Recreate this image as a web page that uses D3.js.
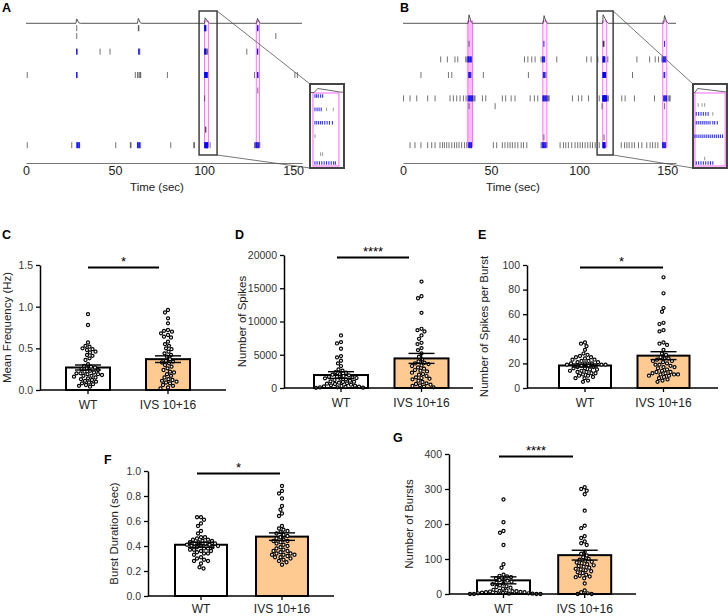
<!DOCTYPE html>
<html><head><meta charset="utf-8">
<script src="https://cdn.jsdelivr.net/npm/d3@7"></script>
<style>body{margin:0;background:#fff}svg{display:block;font-family:"Liberation Sans",Arial,sans-serif}</style>
</head><body><svg id="c" width="728" height="616"></svg>
<script>
// ---------- DATA ----------
const timeTicks = [0, 50, 100, 150];
const rowIds = [0,1,2,3,4,5,6,7,8,9,10,11,12,13,14,15];
const groups = ['WT', 'IVS 10+16'];

// Panel A raster (spike times in sec per electrode row)
const spikesA = [
  [28.5, 63.1, 63.4],
  [28.5, 140.3],
  [],
  [41.6, 47.2, 63.9, 101.36, 101.92, 124.0],
  [], [],
  [0.7, 61.4, 62.6, 63.4, 64.0, 64.4, 79.4, 128.3, 151.0, 152.4],
  [],
  [130.2],
  [100.37],
  [], [], [],
  [100.85, 101.02],
  [],
  [0.7, 25.7, 50.4, 58.6, 59.0, 64.4, 81.3, 94.2, 94.6, 103.4, 128.3, 131.3]
];
const burstSpikesA = [
  [100.37, 100.51, 100.65, 100.85, 101.02, 130.0, 130.3],
  [],
  [],
  [28.4, 28.7, 63.3, 63.5, 100.37, 100.55, 100.72, 100.9, 130.0, 130.2],
  [], [],
  [28.4, 28.7, 100.37, 100.52, 100.68, 100.85, 101.0, 101.2, 101.4, 101.6, 101.85, 130.0, 130.3],
  [], [], [], [], [], [], [], [],
  [28.5, 28.9, 29.3, 29.7, 30.1, 62.6, 63.0, 63.4, 63.8, 100.37, 100.55, 100.75, 100.95, 101.15, 101.35, 101.55, 101.75, 101.95, 102.1, 129.0, 129.4, 129.8, 130.2, 130.6]
];
const networkBurstsA = [[100.2, 102.4], [129.3, 131.1]];
const burstFillA = [0.04, 0.04];
const traceA = [[0,0],[28,0],[28.5,0.8],[29.6,0.1],[30.5,0],[62.6,0],[63.1,0.9],[64.2,0.1],[65,0],[100.3,0],[100.6,1],[101.5,0.6],[102.4,0.15],[103,0],[129.5,0],[130,0.9],[131.1,0.1],[132,0],[155,0]];
const zoomWindowA = [97.2, 107.3];
const insetWindowA = [99.95, 102.83];

// Panel B raster
const spikesB = [
  [], [],
  [37.5, 113.65, 113.94, 114.14],
  [],
  [21.4, 25.2, 29.5, 31.1, 35.6, 36.3, 69.0, 70.9, 73.1, 75.0, 78.4, 87.3, 104.3, 106.8, 110.6, 114.76, 116.3, 132.8, 140.0, 143.2, 145.1, 147.0],
  [],
  [10.2, 25.8, 27.7, 45.6, 71.2, 81.1, 130.3],
  [], [],
  [0.3, 4.0, 7.8, 14.0, 18.2, 26.7, 28.6, 30.5, 32.4, 34.3, 35.8, 39.8, 40.4, 40.9, 45.1, 47.0, 56.4, 58.3, 61.4, 63.6, 72.2, 74.6, 76.5, 82.0, 82.5, 83.0, 96.2, 99.6, 101.5, 105.3, 111.4, 116.0, 116.6, 124.2, 126.1, 131.4, 142.8, 150.5, 151.2, 151.7],
  [37.5, 52.3, 113.0, 148.5],
  [], [], [],
  [80.0, 114.14],
  [4.0, 6.8, 10.2, 14.0, 16.3, 18.2, 21.0, 22.4, 23.5, 24.8, 26.1, 27.7, 29.2, 30.5, 31.8, 33.3, 34.9, 36.2, 51.3, 53.2, 56.4, 57.9, 59.5, 60.8, 62.1, 63.6, 65.2, 67.1, 68.4, 70.3, 78.4, 81.7, 89.2, 91.1, 92.4, 93.9, 95.8, 97.7, 99.2, 100.6, 101.9, 103.4, 104.9, 106.3, 107.6, 109.1, 111.4, 123.9, 125.8, 127.1, 128.4, 130.0, 131.4, 133.7, 135.6, 138.4, 140.3, 141.7, 143.2, 144.7]
];
const burstSpikesB = [
  [], [],
  [80.0, 148.5],
  [],
  [36.8, 37.2, 37.6, 38.0, 38.4, 38.8, 79.2, 79.6, 80.0, 80.4, 113.5, 113.68, 113.86, 114.04, 114.22, 114.4, 147.6, 148.0, 148.4, 148.8, 149.2],
  [],
  [37.3, 37.7, 38.1, 38.5, 79.7, 80.1, 80.5, 113.5, 113.65, 113.8, 113.95, 114.1, 114.25, 114.4, 114.55, 114.76, 114.9, 115.1, 148.2, 148.6],
  [], [],
  [37.0, 37.4, 37.8, 38.2, 38.6, 39.0, 39.4, 79.4, 79.8, 80.2, 80.6, 81.0, 81.4, 113.4, 113.55, 113.7, 113.85, 114.0, 114.15, 114.3, 114.45, 114.6, 114.75, 114.9, 115.05, 115.2, 115.35, 115.5, 148.0, 148.4, 148.8, 149.2, 149.6],
  [], [], [], [], [],
  [37.3, 37.7, 38.1, 38.5, 38.9, 79.0, 79.4, 79.8, 80.2, 80.6, 81.0, 113.5, 113.68, 113.86, 114.04, 114.22, 114.4, 114.58, 114.76, 147.4, 147.8, 148.2, 148.6, 149.0]
];
const networkBurstsB = [[36.8, 39.4], [79.4, 81.7], [113.4, 115.7], [147.5, 149.8]];
const burstFillB = [0.28, 0.08, 0.06, 0.06];
const traceB = [[0,0],[37,0],[37.5,1],[38.6,0.2],[39.5,0],[79.6,0],[80.1,0.9],[81.2,0.2],[82,0],[113.4,0],[113.6,1],[114.6,0.6],[115.6,0.2],[116.5,0],[148,0],[148.5,0.9],[149.6,0.2],[150.5,0],[155,0]];
const zoomWindowB = [110.2, 119.3];
const insetWindowB = [113.25, 115.84];

// Panel C: mean frequency (Hz)
const freqWT  = [0.91,0.78,0.57,0.53,0.52,0.50,0.49,0.48,0.46,0.45,0.42,0.41,0.38,0.36,0.31,0.29,0.28,0.27,0.26,0.25,0.24,0.23,0.22,0.21,0.20,0.19,0.19,0.18,0.17,0.16,0.15,0.14,0.13,0.12,0.11,0.10,0.09,0.08,0.07,0.06,0.05,0.04,0.20,0.17];
const freqIVS = [0.96,0.93,0.86,0.80,0.72,0.71,0.70,0.68,0.66,0.64,0.63,0.58,0.55,0.53,0.50,0.49,0.46,0.44,0.42,0.40,0.37,0.35,0.34,0.33,0.32,0.30,0.28,0.26,0.24,0.22,0.21,0.19,0.17,0.15,0.13,0.12,0.10,0.09,0.08,0.06,0.05,0.03,0.02,0.11];
const freqMean = [0.27, 0.37], freqSem = [0.03, 0.04];
// Panel D: number of spikes
const spikesWT  = [7900,6900,6700,5900,4800,4600,4100,3700,3300,2800,2600,2400,2300,2100,2000,1900,1800,1700,1600,1500,1450,1400,1300,1200,1100,1000,950,900,800,700,650,600,500,400,350,300,250,200,150,100,80,50,30,1650];
const spikesIVS = [16000,13800,13500,11300,8900,8700,8500,7900,7400,6800,6600,6000,5700,5200,4700,4300,4000,3800,3600,3400,3100,2900,2600,2500,2300,2100,2000,1800,1600,1400,1300,1100,900,700,500,400,300,200,100,3700,2700,1500,600,3300];
const spikesMean = [1950, 4450], spikesSem = [500, 750];
// Panel E: spikes per burst
const spbWT  = [37,36,34,31,28,27,26,25,24,23,22,22,21,21,20,20,20,19,19,18,18,17,17,16,16,15,15,14,14,13,13,12,12,11,10,10,9,8,8,6,5,25,23,19];
const spbIVS = [90,77,65,62,53,52,47,46,37,36,35,31,28,27,25,24,23,22,21,20,19,18,17,16,15,14,13,12,12,11,11,10,10,9,8,7,6,5,19,22,13,17,24,11];
const spbMean = [18.3, 26.3], spbSem = [1.2, 3.2];
// Panel F: burst duration (sec)
const durWT  = [0.63,0.63,0.61,0.58,0.56,0.52,0.50,0.47,0.47,0.46,0.45,0.44,0.44,0.43,0.42,0.42,0.41,0.41,0.40,0.40,0.39,0.39,0.38,0.38,0.37,0.36,0.36,0.35,0.34,0.33,0.31,0.30,0.29,0.28,0.28,0.26,0.23,0.22,0.43,0.40,0.45,0.37,0.42,0.34];
const durIVS = [0.88,0.84,0.82,0.78,0.72,0.69,0.66,0.64,0.56,0.54,0.53,0.52,0.51,0.50,0.49,0.48,0.47,0.46,0.45,0.44,0.43,0.42,0.41,0.40,0.39,0.38,0.37,0.36,0.35,0.34,0.34,0.33,0.33,0.32,0.31,0.30,0.29,0.28,0.27,0.25,0.33,0.44,0.36,0.31];
const durMean = [0.41, 0.475], durSem = [0.02, 0.03];
// Panel G: number of bursts
const burstsWT  = [270,205,180,175,140,85,75,55,52,50,48,45,42,40,38,35,32,30,28,25,22,20,18,15,12,10,9,8,7,6,5,4,3,3,2,2,1,1,0,0,0,0,5,8];
const burstsIVS = [305,300,295,285,238,195,188,165,160,150,145,140,120,115,110,105,100,95,92,90,85,82,80,75,72,70,65,60,55,52,50,48,45,30,10,5,2,0,0,88,78,62,98,68];
const burstsMean = [39, 111], burstsSem = [10, 14];

// ---------- DRAW ----------
const svg = d3.select('#c');
const TXT = '#222';

function letter(t, x, y) {
  svg.append('text').attr('x', x).attr('y', y).text(t)
    .attr('font-size', 12.5).attr('font-weight', 'bold').attr('fill', '#000');
}

function rasterPanel(cfg) {
  const g = svg.append('g');
  const x = d3.scaleLinear().domain([0, 155]).range([cfg.x0, cfg.x1]);
  const y = d3.scalePoint().domain(rowIds).range([28.2, 145.2]);
  const ty = d3.scaleLinear().domain([0, 1]).range([23.3, 23.3 - cfg.bump]);

  g.selectAll('rect.nb').data(cfg.nb).join('rect')
    .attr('x', d => x(d[0])).attr('width', d => x(d[1]) - x(d[0]))
    .attr('y', 21).attr('height', 126)
    .attr('fill', '#ff00ff').attr('fill-opacity', (d, i) => cfg.nbOpacity[i])
    .attr('stroke', '#ff55ff').attr('stroke-width', 0.8);

  g.append('path').datum(cfg.trace)
    .attr('d', d3.line().x(d => x(d[0])).y(d => ty(d[1])))
    .attr('fill', 'none').attr('stroke', '#444').attr('stroke-width', 0.9);

  const black = cfg.spikes.flatMap((a, k) => a.map(t => ({k, t})));
  const blue = cfg.bursts.flatMap((a, k) => a.map(t => ({k, t})));
  g.selectAll('line.sp').data(black).join('line')
    .attr('x1', d => x(d.t)).attr('x2', d => x(d.t))
    .attr('y1', d => y(d.k) - 3).attr('y2', d => y(d.k) + 3)
    .attr('stroke', '#000').attr('stroke-opacity', 0.55).attr('stroke-width', 1);
  g.selectAll('line.bs').data(blue).join('line')
    .attr('x1', d => x(d.t)).attr('x2', d => x(d.t))
    .attr('y1', d => y(d.k) - 3).attr('y2', d => y(d.k) + 3)
    .attr('stroke', '#0000ff').attr('stroke-opacity', 0.85).attr('stroke-width', 1);

  const ax = g.append('g').attr('transform', 'translate(0,163)')
    .call(d3.axisBottom(x).tickValues(timeTicks).tickSize(0).tickSizeOuter(0).tickPadding(3));
  ax.select('.domain').attr('stroke', '#777').attr('stroke-width', 1);
  ax.selectAll('text').attr('font-size', 12.5).attr('fill', TXT).attr('font-family', null);

  g.append('text').attr('x', cfg.timeLabelX).attr('y', 191).attr('text-anchor', 'middle')
    .attr('font-size', 11.5).attr('fill', TXT).text('Time (sec)');

  const zx0 = x(cfg.zoom[0]), zx1 = x(cfg.zoom[1]);
  g.append('rect').attr('x', zx0).attr('y', 11).attr('width', zx1 - zx0).attr('height', 144)
    .attr('fill', 'none').attr('stroke', '#333').attr('stroke-width', 1.4);

  const ix = d3.scaleLinear().domain(cfg.insetWin).range([cfg.ix0, cfg.ix1]);
  const iy = d3.scalePoint().domain(rowIds).range([96, 163]);
  const ity = d3.scaleLinear().domain([0, 1]).range([92.5, 88.5]);
  g.append('line').attr('x1', zx1).attr('y1', 11).attr('x2', cfg.ix0).attr('y2', 84)
    .attr('stroke', '#555').attr('stroke-width', 0.8);
  g.append('line').attr('x1', zx1).attr('y1', 155).attr('x2', cfg.ix0).attr('y2', 168)
    .attr('stroke', '#555').attr('stroke-width', 0.8);

  const clipId = 'clip' + cfg.id;
  svg.append('clipPath').attr('id', clipId).append('rect')
    .attr('x', cfg.ix0).attr('y', 84).attr('width', cfg.ix1 - cfg.ix0).attr('height', 84);
  const ig = g.append('g').attr('clip-path', `url(#${clipId})`);
  ig.append('rect').attr('x', cfg.ix0).attr('y', 84).attr('width', cfg.ix1 - cfg.ix0).attr('height', 84).attr('fill', '#fff');
  ig.selectAll('rect.inb').data(cfg.nb).join('rect')
    .attr('x', d => ix(d[0])).attr('width', d => ix(d[1]) - ix(d[0]))
    .attr('y', 93).attr('height', 73)
    .attr('fill', 'none')
    .attr('stroke', '#ff55ff').attr('stroke-width', 0.9);
  ig.append('path').datum(cfg.trace)
    .attr('d', d3.line().x(d => ix(d[0])).y(d => ity(d[1])))
    .attr('fill', 'none').attr('stroke', '#555').attr('stroke-width', 0.9);
  ig.selectAll('line.isp').data(black).join('line')
    .attr('x1', d => ix(d.t)).attr('x2', d => ix(d.t))
    .attr('y1', d => iy(d.k) - 1.8).attr('y2', d => iy(d.k) + 1.8)
    .attr('stroke', '#000').attr('stroke-opacity', 0.45).attr('stroke-width', 0.9);
  ig.selectAll('line.ibs').data(blue).join('line')
    .attr('x1', d => ix(d.t)).attr('x2', d => ix(d.t))
    .attr('y1', d => iy(d.k) - 1.8).attr('y2', d => iy(d.k) + 1.8)
    .attr('stroke', '#0000ff').attr('stroke-opacity', 0.8).attr('stroke-width', 1.1);
  g.append('rect').attr('x', cfg.ix0).attr('y', 84).attr('width', cfg.ix1 - cfg.ix0).attr('height', 84)
    .attr('fill', 'none').attr('stroke', '#444').attr('stroke-width', 2);

  letter(cfg.letter, cfg.lx, 12);
}

rasterPanel({id: 'A', letter: 'A', lx: 2, x0: 26, x1: 302, bump: 5.5, nbOpacity: burstFillA,
  nb: networkBurstsA, trace: traceA, spikes: spikesA, bursts: burstSpikesA,
  zoom: zoomWindowA, insetWin: insetWindowA, ix0: 310, ix1: 344, timeLabelX: 157});
rasterPanel({id: 'B', letter: 'B', lx: 400, x0: 403, x1: 676, bump: 8.5, nbOpacity: burstFillB,
  nb: networkBurstsB, trace: traceB, spikes: spikesB, bursts: burstSpikesB,
  zoom: zoomWindowB, insetWin: insetWindowB, ix0: 693, ix1: 727, timeLabelX: 513});

function swarm(vals, y, cx, d) {
  const pts = vals.map(v => ({v, y: y(v)})).sort((a, b) => a.y - b.y);
  const placed = [];
  for (const p of pts) {
    for (let i = 0; i < 400; i++) {
      const off = (i % 2 === 0 ? 1 : -1) * Math.ceil(i / 2) * 0.5;
      const xx = cx + off;
      if (placed.every(q => (q.x - xx) ** 2 + (q.y - p.y) ** 2 >= d * d)) { p.x = xx; break; }
    }
    placed.push(p);
  }
  return placed;
}

function barPanel(cfg) {
  const g = svg.append('g');
  const y = d3.scaleLinear().domain([0, cfg.max]).range([cfg.bottom, cfg.top]);
  const x = d3.scalePoint().domain(groups).range(cfg.centers);
  const fills = ['#ffffff', '#ffca92'];

  g.selectAll('rect.bar').data(groups).join('rect')
    .attr('x', d => x(d) - cfg.barW / 2).attr('width', cfg.barW)
    .attr('y', (d, i) => y(cfg.mean[i])).attr('height', (d, i) => cfg.bottom - y(cfg.mean[i]))
    .attr('fill', (d, i) => fills[i]).attr('stroke', '#000').attr('stroke-width', 2);

  cfg.vals.forEach((vals, i) => {
    const pts = swarm(vals, y, x(groups[i]), 3.9);
    g.selectAll(null).data(pts).join('circle')
      .attr('cx', d => d.x).attr('cy', d => d.y).attr('r', 1.55)
      .attr('fill', '#fff').attr('stroke', '#000').attr('stroke-width', 1.2);
  });

  groups.forEach((gname, i) => {
    const cx = x(gname), m = cfg.mean[i], s = cfg.sem[i], cw = 13;
    g.append('line').attr('x1', cx).attr('x2', cx).attr('y1', y(m - s)).attr('y2', y(m + s))
      .attr('stroke', '#000').attr('stroke-width', 1.4);
    [m - s, m + s].forEach(v => g.append('line').attr('x1', cx - cw).attr('x2', cx + cw)
      .attr('y1', y(v)).attr('y2', y(v)).attr('stroke', '#000').attr('stroke-width', 1.4));
  });

  const ya = g.append('g').attr('transform', `translate(${cfg.ax},0)`)
    .call(d3.axisLeft(y).tickValues(cfg.ticks).tickFormat(d3.format(cfg.fmt)).tickSize(4).tickSizeOuter(0).tickPadding(3));
  ya.select('.domain').attr('stroke', '#000').attr('stroke-width', 1.5);
  ya.selectAll('.tick line').attr('stroke', '#000').attr('stroke-width', 1.3);
  ya.selectAll('text').attr('font-size', 10.5).attr('fill', '#333').attr('font-family', null);

  g.append('line').attr('x1', cfg.ax).attr('x2', cfg.right).attr('y1', cfg.bottom).attr('y2', cfg.bottom)
    .attr('stroke', '#000').attr('stroke-width', 1.5);
  g.selectAll('line.xt').data(groups).join('line')
    .attr('x1', d => x(d)).attr('x2', d => x(d)).attr('y1', cfg.bottom).attr('y2', cfg.bottom + 4)
    .attr('stroke', '#000').attr('stroke-width', 1.3);
  g.selectAll('text.xl').data(groups).join('text')
    .attr('x', d => x(d)).attr('y', cfg.bottom + cfg.xlabDy).attr('text-anchor', 'middle')
    .attr('font-size', 12).attr('fill', TXT).text(d => d);

  const sy = cfg.top + 2.5;
  g.append('line').attr('x1', cfg.sig[0]).attr('x2', cfg.sig[1]).attr('y1', sy).attr('y2', sy)
    .attr('stroke', '#000').attr('stroke-width', 2);
  g.append('text').attr('x', (cfg.sig[0] + cfg.sig[1]) / 2).attr('y', sy - 1.6)
    .attr('text-anchor', 'middle').attr('font-size', 13).attr('fill', '#000').text(cfg.stars);

  g.append('text').attr('transform', `translate(${cfg.ylabX},${(cfg.top + cfg.bottom) / 2}) rotate(-90)`)
    .attr('text-anchor', 'middle').attr('font-size', 11.5).attr('fill', TXT).text(cfg.ylab);

  letter(cfg.letter, cfg.lx, cfg.ly);
}

barPanel({letter: 'C', lx: 2, ly: 239, ax: 40, right: 226, top: 265, bottom: 390, max: 1.5, xlabDy: 19,
  ticks: [0, 0.5, 1.0, 1.5], fmt: '.1f', centers: [88, 168], barW: 44, sig: [88, 159], stars: '*',
  ylab: 'Mean Frequency (Hz)', ylabX: 11, vals: [freqWT, freqIVS], mean: freqMean, sem: freqSem});
barPanel({letter: 'D', lx: 235, ly: 239, ax: 284, right: 473, top: 255, bottom: 388, max: 20000, xlabDy: 19,
  ticks: [0, 5000, 10000, 15000, 20000], fmt: 'd', centers: [341, 421.5], barW: 54, sig: [337, 409], stars: '****',
  ylab: 'Number of Spikes', ylabX: 246, vals: [spikesWT, spikesIVS], mean: spikesMean, sem: spikesSem});
barPanel({letter: 'E', lx: 478, ly: 239, ax: 527, right: 718, top: 265, bottom: 388, max: 100, xlabDy: 19,
  ticks: [0, 20, 40, 60, 80, 100], fmt: 'd', centers: [585, 663.5], barW: 52, sig: [580, 663], stars: '*',
  ylab: 'Number of Spikes per Burst', ylabX: 488, vals: [spbWT, spbIVS], mean: spbMean, sem: spbSem});
barPanel({letter: 'F', lx: 104, ly: 464, ax: 148, right: 334, top: 471, bottom: 596, max: 1.0, xlabDy: 16.5,
  ticks: [0, 0.2, 0.4, 0.6, 0.8, 1.0], fmt: '.1f', centers: [201, 282], barW: 52, sig: [197, 280], stars: '*',
  ylab: 'Burst Duration (sec)', ylabX: 118, vals: [durWT, durIVS], mean: durMean, sem: durSem});
barPanel({letter: 'G', lx: 393, ly: 442, ax: 449, right: 636, top: 454, bottom: 594, max: 400, xlabDy: 18.5,
  ticks: [0, 100, 200, 300, 400], fmt: 'd', centers: [503.5, 584.7], barW: 53, sig: [499, 573], stars: '****',
  ylab: 'Number of Bursts', ylabX: 413, vals: [burstsWT, burstsIVS], mean: burstsMean, sem: burstsSem});
</script>
</body></html>
